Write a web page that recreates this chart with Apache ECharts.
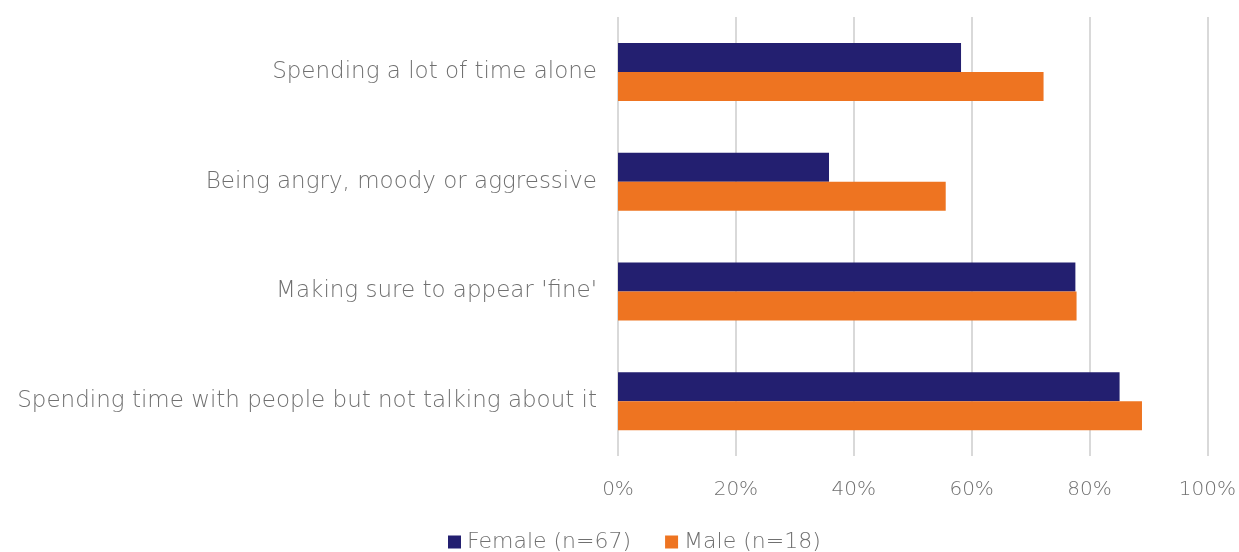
<!DOCTYPE html>
<html>
<head>
<meta charset="utf-8">
<script src="https://cdn.jsdelivr.net/npm/echarts@6/dist/echarts.min.js"></script>
<style>
  html, body { margin: 0; padding: 0; background: #fff; }
  #chart { width: 1239px; height: 552px; }
</style>
</head>
<body>
<div id="chart"></div>
<script>
// categories listed bottom-to-top (ECharts draws category axis from bottom on y)
const categories = [
  'Spending time with people but not talking about it',
  "Making sure to appear 'fine'",
  'Being angry, moody or aggressive',
  'Spending a lot of time alone'
];
const femaleValues = [0.851, 0.776, 0.358, 0.582];
const maleValues = [0.889, 0.778, 0.556, 0.722];
const seriesNames = ['Female (n=67)', 'Male (n=18)'];
const tickLabels = ['0%', '20%', '40%', '60%', '80%', '100%'];

const textColor = '#707070';
const fontFamily = '"DejaVu Sans", sans-serif';

const chart = echarts.init(document.getElementById('chart'));
chart.setOption({
  animation: false,
  textStyle: { fontFamily: fontFamily },
  grid: { left: 618, right: 31, top: 17, bottom: 96, containLabel: false },
  legend: {
    bottom: -6,
    left: 443,
    itemWidth: 13,
    itemHeight: 13,
    itemGap: 34,
    icon: 'rect',
    textStyle: { fontSize: 22, fontWeight: 200, color: textColor, fontFamily: fontFamily, padding: [0, 0, 0, 1] },
    data: seriesNames
  },
  xAxis: {
    type: 'value',
    min: 0,
    max: 1,
    interval: 0.2,
    axisLine: { show: false },
    axisTick: { show: false },
    splitLine: { lineStyle: { color: '#d9d9d9', width: 2 } },
    axisLabel: {
      margin: 24,
      fontSize: 20,
      fontWeight: 200,
      color: textColor,
      formatter: function (v) { return tickLabels[Math.round(v / 0.2)]; }
    }
  },
  yAxis: {
    type: 'category',
    data: categories,
    axisLine: { show: false },
    axisTick: { show: false },
    axisLabel: { margin: 21, fontSize: 23, fontWeight: 200, color: textColor }
  },
  series: [
    {
      name: seriesNames[0],
      type: 'bar',
      data: femaleValues,
      barWidth: 29,
      barGap: '0%',
      itemStyle: { color: '#231f70' }
    },
    {
      name: seriesNames[1],
      type: 'bar',
      data: maleValues,
      barWidth: 29,
      barGap: '0%',
      itemStyle: { color: '#ee7421' }
    }
  ]
});
</script>
</body>
</html>
